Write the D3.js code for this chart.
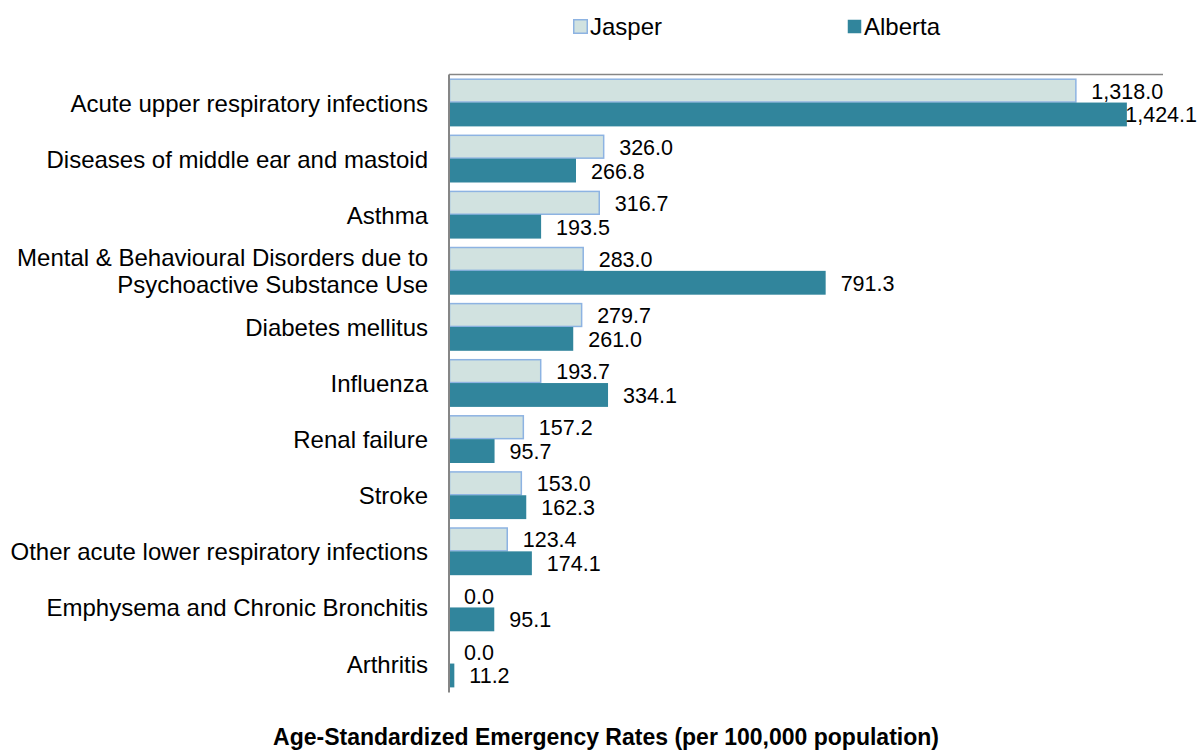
<!DOCTYPE html>
<meta charset="utf-8">
<style>
body { margin: 0; background: #fff; }
text { font-family: "Liberation Sans", Arial, sans-serif; fill: #000; }
</style>
<body>
<script src="https://cdn.jsdelivr.net/npm/d3@7"></script>
<script>
var width = 1198, height = 751;

var categories = [
  "Acute upper respiratory infections",
  "Diseases of middle ear and mastoid",
  "Asthma",
  "Mental & Behavioural Disorders due to|Psychoactive Substance Use",
  "Diabetes mellitus",
  "Influenza",
  "Renal failure",
  "Stroke",
  "Other acute lower respiratory infections",
  "Emphysema and Chronic Bronchitis",
  "Arthritis"
];
var jasper  = [1318.0, 326.0, 316.7, 283.0, 279.7, 193.7, 157.2, 153.0, 123.4, 0.0, 0.0];
var alberta = [1424.1, 266.8, 193.5, 791.3, 261.0, 334.1, 95.7, 162.3, 174.1, 95.1, 11.2];
var seriesNames = ["Jasper", "Alberta"];
var xMax = 1500;
var titleText = "Age-Standardized Emergency Rates (per 100,000 population)";

var plotLeft = 449, plotRight = 1163, plotTop = 74.5, plotBottom = 691.6;

var svg = d3.select("body").append("svg")
    .attr("width", width)
    .attr("height", height);

var x = d3.scaleLinear().domain([0, xMax]).range([plotLeft, plotRight]);
var y = d3.scaleBand().domain(d3.range(categories.length)).range([plotTop, plotBottom]).paddingInner(0.15).paddingOuter(0.075);
var ySub = d3.scaleBand().domain([0, 1]).range([0, y.bandwidth()]);
var fmt = d3.format(",.1f");

var series = [
  {name: seriesNames[0], values: jasper, fill: "#d1e2e0", stroke: "#8db3e2"},
  {name: seriesNames[1], values: alberta, fill: "#31859c", stroke: "none"}
];

// bars
series.forEach(function(s, si){
  svg.append("g").selectAll("rect")
    .data(s.values)
    .enter().append("rect")
    .attr("x", x(0) + (si == 0 ? 0.5 : 0))
    .attr("y", function(d, i){ return y(i) + ySub(si) + (si == 0 ? 0.5 : 0); })
    .attr("width", function(d){ return Math.max(0, x(d) - x(0) - (si == 0 ? 1 : 0)); })
    .attr("height", ySub.bandwidth() - (si == 0 ? 1 : 0))
    .attr("fill", s.fill)
    .attr("stroke", function(d){ return d > 0 ? s.stroke : "none"; })
    .attr("stroke-width", si == 0 ? 1.5 : 0);
});

// value labels; one that would run off the right edge gets anchored to the edge
series.forEach(function(s, si){
  svg.append("g").selectAll("text")
    .data(s.values)
    .enter().append("text")
    .attr("x", function(d){ return x(d) + 15; })
    .attr("y", function(d, i){ return y(i) + ySub(si) + ySub.bandwidth() / 2 + 1; })
    .attr("dominant-baseline", "central")
    .style("font-size", "21.5px")
    .text(function(d){ return fmt(d); })
    .each(function(d){
      var w = this.getComputedTextLength();
      if (x(d) + 15 + w > width - 2) {
        this.setAttribute("x", width - 1);
        this.setAttribute("text-anchor", "end");
      }
    });
});

// axes lines
svg.append("line").attr("x1", plotLeft).attr("x2", plotRight).attr("y1", plotTop).attr("y2", plotTop)
  .attr("stroke", "#868686").attr("stroke-width", 1.5);
svg.append("line").attr("x1", plotLeft).attr("x2", plotLeft).attr("y1", plotTop).attr("y2", plotBottom + 1)
  .attr("stroke", "#868686").attr("stroke-width", 2);

// category labels
var cat = svg.append("g").selectAll("text")
  .data(categories)
  .enter().append("text")
  .attr("text-anchor", "end")
  .style("font-size", "24px")
  .attr("y", function(d, i){ return y(i) + y.bandwidth() / 2; })
  .attr("dominant-baseline", "central");
cat.each(function(d){
  var lines = d.split("|");
  var t = d3.select(this);
  lines.forEach(function(l, li){
    t.append("tspan")
      .attr("x", 428)
      .attr("dy", li == 0 ? -(lines.length - 1) * 13.5 : 27)
      .text(l);
  });
});

// legend
var legendX = [573, 847];
series.forEach(function(s, si){
  var g = svg.append("g").attr("transform", "translate(" + legendX[si] + ",19)");
  g.append("rect").attr("x", 0.75).attr("y", 0.75).attr("width", 13.5).attr("height", 13.5)
    .attr("fill", s.fill).attr("stroke", si == 0 ? s.stroke : "none").attr("stroke-width", 1.5);
  g.append("text").attr("x", 17).attr("y", 7).attr("dominant-baseline", "central")
    .style("font-size", "24px").text(s.name);
});

// title
svg.append("text")
  .attr("x", 606).attr("y", 745)
  .attr("text-anchor", "middle")
  .style("font-size", "23px")
  .style("font-weight", "bold")
  .text(titleText);
</script>
</body>
